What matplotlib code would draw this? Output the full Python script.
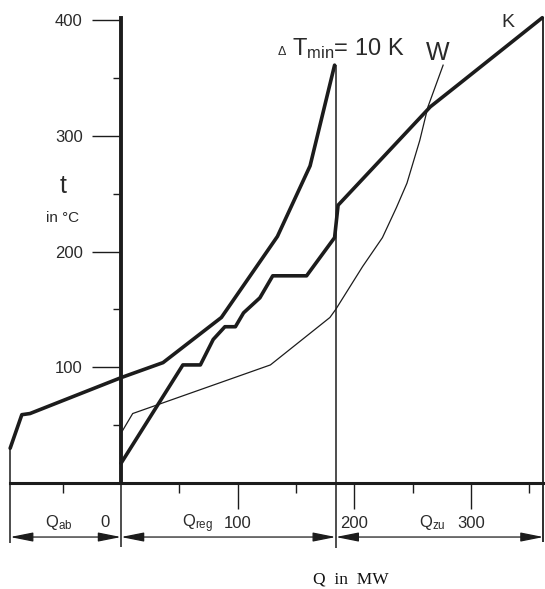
import matplotlib
matplotlib.use("Agg")
import matplotlib.pyplot as plt
import numpy as np

plt.rcParams['font.family'] = ['Liberation Sans', 'DejaVu Sans']
plt.rcParams['mathtext.fontset'] = 'custom'
plt.rcParams['mathtext.rm'] = 'Liberation Sans'
plt.rcParams['mathtext.it'] = 'Liberation Sans'

# shifted hot composite curve (Q in MW, t in degC)
hot_q = [-95, -85, -78, 0, 36, 86, 134, 162, 183]
hot_t = [30, 59, 60, 91, 104, 143, 213, 274, 361]

# cold composite curve K
cold_q = [0, 53, 68, 79, 89, 98, 105, 119, 130, 159, 183, 186, 265, 290, 361]
cold_t = [17, 102, 102, 124, 135, 135, 147, 160, 179, 179, 212, 240, 325, 345, 402]

# thin curve W
w_q = [0, 10, 128, 179, 184, 207, 224, 236, 245, 256, 263, 276]
w_t = [43, 60, 102, 143, 150, 187, 212, 238, 259, 296, 325, 361]

# interval bounds on the Q axis
q_start = -95
q_zero = 0
q_reg_end = 184
q_end = 362

y_major = [100, 200, 300, 400]
y_minor = [50, 150, 250, 350]
x_major = [100, 200, 300]
x_minor = [-50, 50, 150, 250, 350]

ink = '#1c1c1c'
txt = '#2a2a2a'

fig = plt.figure(figsize=(5.45, 5.89), dpi=100)
ax = fig.add_axes([0, 0, 1, 1])
ax.set_xlim(-103.7, 363.3)
ax.set_ylim(-91.6, 417.3)
ax.patch.set_visible(False)

for s in ['top', 'right']:
    ax.spines[s].set_visible(False)
ax.spines['left'].set_position(('data', 0))
ax.spines['left'].set_bounds(0, 402)
ax.spines['left'].set_linewidth(2.8)
ax.spines['left'].set_color(ink)
ax.spines['bottom'].set_position(('data', 0))
ax.spines['bottom'].set_bounds(q_start, q_end)
ax.spines['bottom'].set_linewidth(2.2)
ax.spines['bottom'].set_color(ink)

ax.set_yticks(y_major)
ax.set_yticks(y_minor, minor=True)
ax.set_xticks(x_major)
ax.set_xticks(x_minor, minor=True)
ax.tick_params(axis='y', which='major', length=21, width=1.0, color=ink,
               pad=6.5, labelsize=12, labelcolor=txt)
ax.tick_params(axis='y', which='minor', length=6, width=1.0, color=ink)
ax.tick_params(axis='x', which='major', length=19, width=1.0, color=ink,
               pad=5, labelsize=12, labelcolor=txt)
ax.tick_params(axis='x', which='minor', length=7, width=1.0, color=ink)

# curves
ax.plot(hot_q, hot_t, color=ink, lw=2.6, solid_joinstyle='round', solid_capstyle='round')
ax.plot(cold_q, cold_t, color=ink, lw=2.6, solid_joinstyle='round', solid_capstyle='round')
ax.plot(w_q, w_t, color=ink, lw=0.9, solid_joinstyle='round')

# vertical boundary lines
arrow_t = -46.7
ax.vlines(q_start, -52, hot_t[0], color=ink, lw=1.1)
ax.vlines(q_zero, -55, 0, color=ink, lw=1.1)
ax.vlines(q_reg_end, -56, hot_t[-1], color=ink, lw=1.1)
ax.vlines(q_end, -51, cold_t[-1], color=ink, lw=1.3)

# dimension arrows
for a, b in [(q_start, q_zero), (q_zero, q_reg_end), (q_reg_end, q_end)]:
    ax.annotate('', xy=(a, arrow_t), xytext=(b, arrow_t),
                arrowprops=dict(arrowstyle='<|-|>,head_length=0.7,head_width=0.14',
                                mutation_scale=20, color=ink, lw=0.9,
                                shrinkA=0, shrinkB=0))

# labels
ax.text(-49.7, 256.6, 't', fontsize=18, color=txt, ha='center', va='center')
ax.text(-50, 229, 'in °C', fontsize=11, color=txt, ha='center', va='center')
ax.text(138, 370, 'Δ', fontsize=9, color=txt, ha='center', va='baseline')
ax.text(146.5, 370, r'T$_{\rm min}$= 10 K', fontsize=17, color=txt, ha='left', va='baseline')
ax.text(271, 365.5, 'W', fontsize=18, color=txt, ha='center', va='baseline')
ax.text(331.6, 394, 'K', fontsize=14, color=txt, ha='center', va='baseline')

ax.text(-65, -38, r'Q$_{\rm ab}$', fontsize=12, color=txt, ha='left', va='baseline')
ax.text(-13.7, -38, '0', fontsize=12, color=txt, ha='center', va='baseline')
ax.text(52.3, -38, r'Q$_{\rm reg}$', fontsize=12, color=txt, ha='left', va='baseline')
ax.text(255.4, -38, r'Q$_{\rm zu}$', fontsize=12, color=txt, ha='left', va='baseline')

ax.text(197, -83, 'Q  in  MW', fontsize=12.5, family='Liberation Serif',
        color='#111111', ha='center', va='center')

fig.savefig('out.png', dpi=100)
